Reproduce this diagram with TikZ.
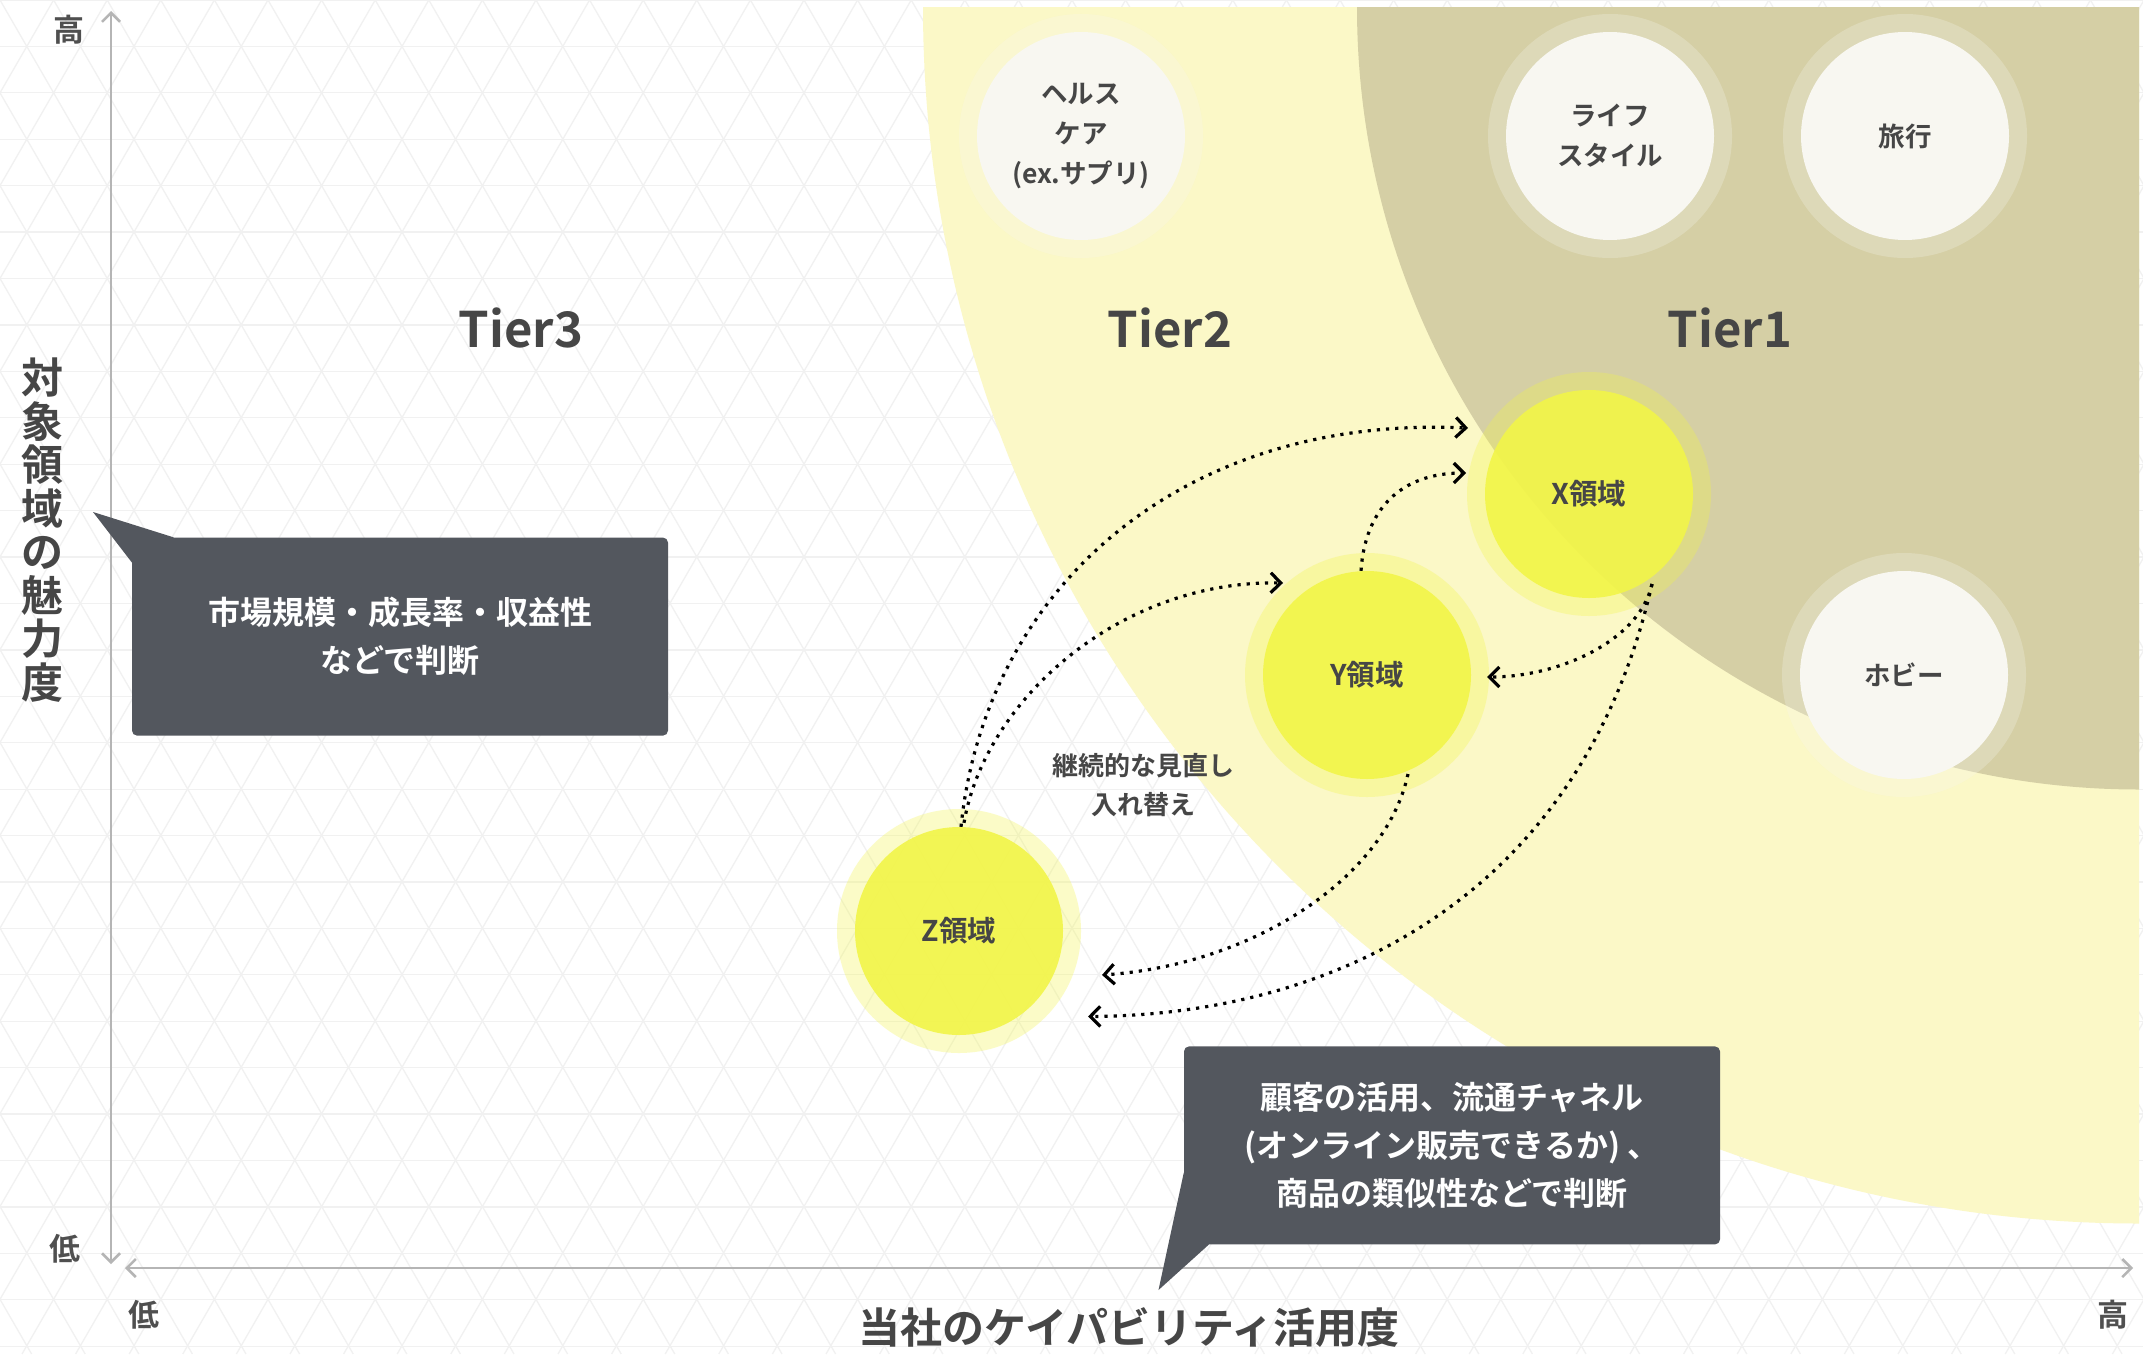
\documentclass[tikz,border=0pt]{standalone}
\usepackage{fontspec}
\setmainfont{Noto Sans CJK JP}[BoldFont={Noto Sans CJK JP Bold}]
\usetikzlibrary{arrows.meta,calc}
\definecolor{tiertwo}{HTML}{FBF8C7}
\definecolor{tierone}{HTML}{D5CFA5}
\definecolor{wfill}{HTML}{F8F7F1}
\definecolor{yfill}{HTML}{F2F548}
\definecolor{txt}{HTML}{464646}
\definecolor{callbg}{HTML}{53575E}
\definecolor{axisgray}{HTML}{B5B5B5}
\definecolor{patline}{HTML}{F1F1F1}
\pgfdeclarelayer{bg}
\pgfdeclarelayer{halo}
\pgfsetlayers{bg,halo,main}
\begin{document}
\begin{tikzpicture}[x=1pt,y=-1pt,
  every node/.style={font=\bfseries, text=txt},
  wcirc/.style={circle, fill=wfill, minimum size=208pt, inner sep=0pt, align=center,
    font=\bfseries\fontsize{26.5}{40}\selectfont},
  ycirc/.style={circle, fill=yfill, fill opacity=0.9, text opacity=1, minimum size=208pt,
    inner sep=0pt, align=center, font=\bfseries\fontsize{28.5}{40}\selectfont},
  tierlbl/.style={font=\bfseries\fontsize{49}{56}\selectfont, text=txt},
  axlbl/.style={font=\bfseries\fontsize{31}{34}\selectfont, text=txt!95},
  bigtitle/.style={font=\bfseries\fontsize{42}{43.5}\selectfont, align=center, text=txt},
  notetxt/.style={font=\bfseries\fontsize{26}{39}\selectfont, align=center, text=txt},
  callout/.style={fill=callbg, rounded corners=5pt, minimum width=536pt, minimum height=198pt,
    text=white, align=center, inner sep=0pt, font=\bfseries\fontsize{32}{48}\selectfont},
  axisline/.style={draw=axisgray, line width=2.5pt,
    {Straight Barb[length=9pt,width=18pt]}-{Straight Barb[length=9pt,width=18pt]}},
  dotarrow/.style={draw=black, line width=3.2pt, line cap=butt, dash pattern=on 3.2pt off 6pt,
    -{Straight Barb[length=10pt,width=20pt,line width=3.2pt]}},
  patl/.style={draw=patline, line width=1.3pt}
]
\useasboundingbox (0,0) rectangle (2143,1354);

% background, pattern, tiers
\begin{pgfonlayer}{bg}
  \fill[white] (0,0) rectangle (2143,1354);
  \begin{scope}
    \clip (0,0) rectangle (2143,1354);
    \foreach \i in {-16,...,41} \draw[patl] (\i*53.6,0) -- ++(782,1354);
    \foreach \i in {0,...,56} \draw[patl] (\i*53.6,0) -- ++(-782,1354);
    \foreach \k in {0,...,29} \draw[patl] (0,\k*46.42) -- (2143,\k*46.42);
  \end{scope}
  \begin{scope}
    \clip (0,7.5) rectangle (2139,1354);
    \fill[tiertwo] (2139,7.5) circle[radius=1216pt];
    \fill[tierone] (2139,7.5) circle[radius=782pt];
  \end{scope}
\end{pgfonlayer}

% tier labels
\node[tierlbl] (t3) at (521,328) {Tier3};
\node[tierlbl] (t2) at (1170,328) {Tier2};
\node[tierlbl] (t1) at (1730,328) {Tier1};

% circles
\node[wcirc] (hc) at (1081,136) {ヘルス\\ケア\\(ex.サプリ)};
\node[wcirc] (ls) at (1610,136) {ライフ\\スタイル};
\node[wcirc] (tr) at (1905,136) {旅行};
\node[wcirc] (hb) at (1904,675) {ホビー};
\node[ycirc] (X) at (1589,494) {X領域};
\node[ycirc] (Y) at (1367,675) {Y領域};
\node[ycirc] (Z) at (959,931) {Z領域};

\begin{pgfonlayer}{halo}
  \foreach \n in {hc,ls,tr,hb} \fill[wfill, fill opacity=0.25] (\n) circle[radius=122pt];
  \foreach \n in {X,Y,Z} \fill[yfill, fill opacity=0.3] (\n) circle[radius=122pt];
\end{pgfonlayer}

% axes
\coordinate (vtop) at (111,11);
\coordinate (vbot) at (111,1264);
\coordinate (hleft) at (125,1268);
\coordinate (hright) at (2133,1268);
\draw[axisline] (vbot) -- (vtop);
\draw[axisline] (hleft) -- (hright);
\node[axlbl] (yhi) at (69,30) {高};
\node[axlbl] (ylo) at (65,1249) {低};
\node[axlbl] (xlo) at (144,1315) {低};
\node[axlbl] (xhi) at (2113,1315) {高};
\node[bigtitle] (ytitle) at (42,530) {対\\象\\領\\域\\の\\魅\\力\\度};
\node[bigtitle] (xtitle) at (1129,1328) {当社のケイパビリティ活用度};

% callouts
\coordinate (c1tip) at (93,512);
\node[callout] (c1) at (400,636.6) {市場規模・成長率・収益性\\などで判断};
\fill[callbg] (c1tip) -- ($(c1.north west)+(42,0)$) -- ($(c1.north west)+(0,25)$) -- cycle;
\coordinate (c2tip) at (1158.5,1290);
\node[callout] (c2) at (1452,1145.4) {顧客の活用、流通チャネル\\(オンライン販売できるか) 、\\商品の類似性などで判断};
\fill[callbg] (c2tip) -- ($(c2.south west)+(0,-72)$) -- ($(c2.south west)+(25,0)$) -- cycle;

% note
\node[notetxt] (note) at (1143,785) {継続的な見直し\\入れ替え};

% dotted connectors
\draw[dotarrow] ($(Z.north)+(2,0)$) .. controls (985,590) and (1180,415) .. ($(X)+(-121,-66)$);
\draw[dotarrow] ($(Z.north)+(5,-4)$) .. controls (985,700) and (1120,580) .. ($(Y)+(-84,-92)$);
\draw[dotarrow] ($(Y.north)+(-6,0)$) .. controls (1365,510) and (1400,473) .. ($(X)+(-123,-21)$);
\draw[dotarrow] ($(X)+(63,90)$) .. controls (1640,640) and (1560,677) .. ($(Y)+(120,2)$);
\draw[dotarrow] ($(Y)+(41,99)$) .. controls (1385,880) and (1250,965) .. ($(Z)+(143,44)$);
\draw[dotarrow] ($(X)+(63,90)$) .. controls (1580,900) and (1330,1015) .. ($(Z)+(129,85.5)$);
\end{tikzpicture}
\end{document}
